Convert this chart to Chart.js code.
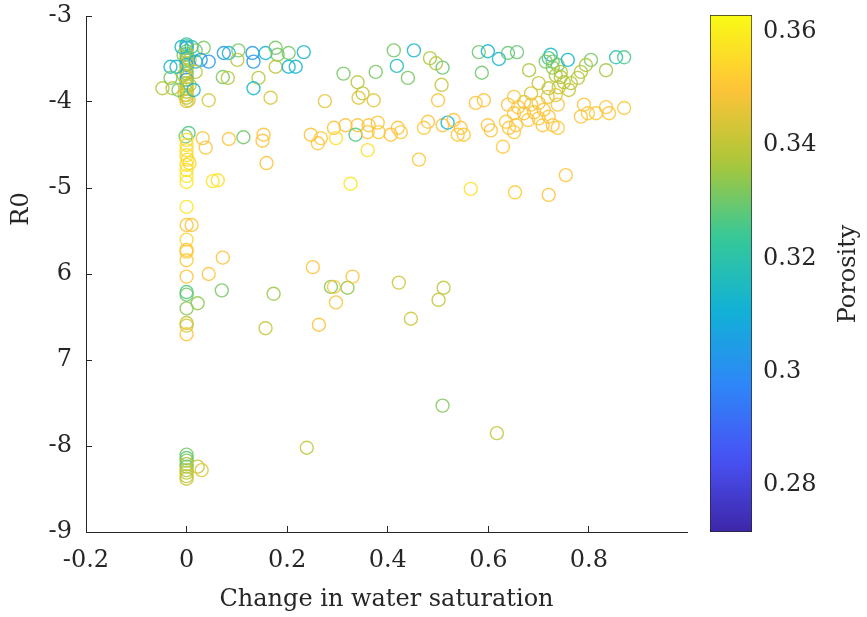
<!DOCTYPE html>
<html>
<head>
<meta charset="utf-8">
<script src="https://cdn.jsdelivr.net/npm/chart.js@4.4.1/dist/chart.umd.min.js"></script>
<style>
  html, body { margin: 0; padding: 0; background: #fff; }
  #wrap { position: relative; width: 867px; height: 617px; }
  #plot { position: absolute; left: 0; top: 0; }
  #cbar { position: absolute; left: 700px; top: 0; }
</style>
</head>
<body>
<div id="wrap">
  <canvas id="plot" width="867" height="617"></canvas>
  <canvas id="cbar" width="167" height="617"></canvas>
</div>
<script>
// axes
const xTicks = [-0.2, 0, 0.2, 0.4, 0.6, 0.8];
const xTickLabels = ['-0.2', '0', '0.2', '0.4', '0.6', '0.8'];
const yTicks = [-9, -8, -7, -6, -5, -4, -3];
const yTickLabels = ['-9', '-8', '7', '6', '-5', '-4', '-3'];
const cTicks = [0.28, 0.30, 0.32, 0.34, 0.36];
const cTickLabels = ['0.28', '0.3', '0.32', '0.34', '0.36'];
const cRange = [0.2717, 0.363];

// change in water saturation
const waterSatChange = [
  0,0,0,0,0,0,0,0,0,0,0,0,0,0,0,0,0,0,0,0,0,-0.006,0.006,-0.006,0.006,-0.004,0.004,-0.010,0.010,
  -0.048,-0.032,-0.020,-0.032,-0.028,-0.016,
  0.018,0.034,0.028,0.044,0.018,0.014,0.044,0.018,
  0.074,0.084,0.103,0.101,0.072,0.082,0.131,0.133,0.143,0.133,0.167,0.157,0.177,0.181,0.177,0.203,0.203,0.217,0.233,
  0.312,0.340,0.376,0.412,0.452,0.418,0.440,0.484,0.496,0.509,0.507,0.275,0.342,0.350,0.372,0.500,0.581,0.599,0.621,0.639,0.657,0.587,0.681,0.575,0.591,
  0.724,0.720,0.728,0.738,0.728,0.744,0.734,0.758,0.804,0.794,0.784,0.778,0.764,0.834,0.854,0.870,0.744,0.750,0.760,0.740,0.720,0.700,0.685,0.714,
  0.651,0.639,0.659,0.671,0.685,0.700,0.718,0.734,0.738,0.710,0.691,0.671,0.679,0.700,0.720,0.728,0.738,0.708,0.651,0.635,0.641,0.655,0.651,0.599,0.605,0.790,0.798,0.784,0.814,0.834,0.840,0.870,0.629,
  0.247,0.261,0.267,0.293,0.297,0.316,0.340,0.336,0.360,0.362,0.380,0.382,0.406,0.420,0.426,0.360,0.462,0.480,0.472,0.509,0.519,0.531,0.545,0.551,0.539,
  0.004,-0.002,0,0,0,0,0.002,0,0.006,0,0,0,0.032,0.038,0.084,0.113,0.153,0.151,0.159,0.052,0.062,
  0,0,0.010,0,0,0,0,0,0.044,0.072,0,0,0,0.022,0.070,0.173,0,0,0,0.157,
  0.326,0.565,0.653,0.720,0.754,0.251,0.287,0.293,0.320,0.330,0.297,0.263,0.422,0.446,0.511,0.501,
  0.509,0.617,0.239,0,0,0,0,0,0,0,0,0,0.022,0.030
];

// R0
const r0 = [
  -3.33,-3.35,-3.37,-3.41,-3.44,-3.48,-3.51,-3.55,-3.57,-3.60,-3.64,-3.67,-3.71,-3.74,-3.78,-3.81,-3.85,-3.88,-3.92,-3.95,-3.99,-3.45,-3.51,-3.69,-3.80,-3.92,-3.98,-3.36,-3.36,
  -3.84,-3.59,-3.59,-3.72,-3.84,-3.86,
  -3.40,-3.37,-3.51,-3.53,-3.53,-3.86,-3.98,-3.65,
  -3.43,-3.43,-3.40,-3.51,-3.71,-3.72,-3.43,-3.53,-3.72,-3.84,-3.95,-3.43,-3.37,-3.45,-3.59,-3.43,-3.59,-3.59,-3.42,
  -3.67,-3.77,-3.65,-3.40,-3.40,-3.58,-3.72,-3.49,-3.55,-3.60,-3.80,-3.99,-3.95,-3.90,-3.98,-3.98,-3.42,-3.41,-3.50,-3.43,-3.42,-3.66,-3.63,-4.01,-3.98,
  -3.45,-3.49,-3.53,-3.57,-3.60,-3.65,-3.69,-3.51,-3.51,-3.57,-3.65,-3.72,-3.78,-3.63,-3.48,-3.48,-3.71,-3.77,-3.86,-3.83,-3.84,-3.78,-3.90,-3.53,
  -3.94,-4.03,-4.06,-4.00,-4.03,-4.01,-3.94,-3.92,-4.03,-4.09,-4.12,-4.13,-4.21,-4.19,-4.17,-4.27,-4.30,-4.27,-4.13,-4.23,-4.30,-4.27,-4.35,-4.27,-4.33,-4.03,-4.13,-4.17,-4.13,-4.06,-4.13,-4.07,-4.52,
  -4.38,-4.48,-4.42,-4.30,-4.42,-4.27,-4.27,-4.38,-4.35,-4.27,-4.24,-4.35,-4.38,-4.30,-4.35,-4.56,-4.67,-4.23,-4.30,-4.27,-4.24,-4.21,-4.30,-4.38,-4.38,
  -4.36,-4.40,-4.44,-4.50,-4.56,-4.62,-4.67,-4.73,-4.71,-4.79,-4.86,-4.93,-4.42,-4.53,-4.43,-4.41,-4.38,-4.45,-4.71,-4.92,-4.91,
  -5.22,-5.43,-5.43,-5.60,-5.72,-5.74,-5.84,-6.03,-6.00,-5.81,-6.21,-6.24,-6.40,-6.34,-6.19,-6.23,-6.57,-6.60,-6.70,-6.63,
  -4.95,-5.01,-5.05,-5.08,-4.85,-5.92,-6.15,-6.15,-6.16,-6.03,-6.33,-6.59,-6.10,-6.52,-6.16,-6.30,
  -7.53,-7.85,-8.02,-8.10,-8.14,-8.17,-8.21,-8.24,-8.28,-8.31,-8.35,-8.38,-8.24,-8.28
];

// porosity (colour)
const porosity = [
  0.319,0.326,0.303,0.331,0.339,0.339,0.331,0.339,0.303,0.339,0.339,0.331,0.339,0.303,0.339,0.339,0.344,0.339,0.344,0.339,0.344,0.331,0.339,0.339,0.339,0.344,0.344,0.313,0.319,
  0.339,0.313,0.313,0.331,0.339,0.331,
  0.331,0.331,0.303,0.303,0.313,0.313,0.344,0.339,
  0.303,0.313,0.331,0.339,0.331,0.339,0.303,0.303,0.339,0.313,0.344,0.313,0.331,0.331,0.339,0.331,0.313,0.313,0.313,
  0.331,0.339,0.331,0.331,0.313,0.316,0.331,0.337,0.339,0.329,0.341,0.346,0.345,0.340,0.346,0.350,0.330,0.313,0.313,0.329,0.329,0.330,0.337,0.350,0.350,
  0.314,0.326,0.331,0.331,0.333,0.337,0.338,0.312,0.331,0.337,0.338,0.339,0.339,0.336,0.320,0.326,0.338,0.339,0.341,0.340,0.340,0.341,0.344,0.331,
  0.349,0.350,0.350,0.345,0.349,0.348,0.345,0.345,0.349,0.350,0.350,0.350,0.351,0.350,0.350,0.350,0.351,0.350,0.350,0.351,0.350,0.350,0.351,0.350,0.350,0.350,0.351,0.350,0.351,0.350,0.350,0.351,0.351,
  0.350,0.350,0.351,0.350,0.357,0.350,0.350,0.327,0.350,0.349,0.350,0.351,0.350,0.350,0.351,0.357,0.350,0.350,0.351,0.350,0.313,0.350,0.350,0.351,0.351,
  0.326,0.331,0.355,0.356,0.355,0.356,0.355,0.356,0.355,0.356,0.358,0.358,0.350,0.350,0.350,0.330,0.350,0.350,0.350,0.358,0.357,
  0.358,0.350,0.350,0.354,0.350,0.351,0.352,0.350,0.350,0.350,0.327,0.330,0.333,0.334,0.331,0.335,0.340,0.343,0.350,0.341,
  0.358,0.357,0.352,0.350,0.350,0.350,0.332,0.350,0.334,0.350,0.349,0.350,0.342,0.342,0.340,0.341,
  0.332,0.340,0.340,0.331,0.328,0.332,0.338,0.331,0.339,0.340,0.341,0.341,0.340,0.345
];

// parula colormap
const parulaStops = [
  [0.2422, 0.1504, 0.6603], [0.2810, 0.3228, 0.9579], [0.1786, 0.5289, 0.9682], [0.0689, 0.6948, 0.8394],
  [0.2161, 0.7843, 0.5923], [0.6720, 0.7793, 0.2227], [0.9970, 0.7659, 0.2199], [0.9769, 0.9839, 0.0805]
];
function parula(t, alpha) {
  t = Math.min(1, Math.max(0, t));
  const n = parulaStops.length - 1;
  const i = Math.min(n - 1, Math.floor(t * n));
  const f = t * n - i;
  const a = parulaStops[i], b = parulaStops[i + 1];
  const c = [0, 1, 2].map(k => Math.round(255 * (a[k] + (b[k] - a[k]) * f)));
  return `rgba(${c[0]},${c[1]},${c[2]},${alpha == null ? 1 : alpha})`;
}
const norm = v => (v - cRange[0]) / (cRange[1] - cRange[0]);

Chart.defaults.font.family = '"DejaVu Serif", serif';
Chart.defaults.font.size = 24;
Chart.defaults.color = '#262626';

// no extra room for half tick labels, layout padding decides the box
function noScalePad(s) {
  s.paddingTop = 0; s.paddingBottom = 0; s.paddingLeft = 0; s.paddingRight = 0;
}

// rotated side label (R0 / Porosity)
const sideLabel = {
  id: 'sideLabel',
  afterDraw(chart, args, opts) {
    const ctx = chart.ctx;
    ctx.save();
    ctx.font = '24px "DejaVu Serif", serif';
    ctx.fillStyle = '#262626';
    ctx.textAlign = 'center';
    ctx.textBaseline = 'middle';
    ctx.translate(opts.x, opts.y);
    ctx.rotate(-Math.PI / 2);
    ctx.fillText(opts.text, 0, 0);
    ctx.restore();
  }
};

const points = waterSatChange.map((x, i) => ({ x, y: r0[i] }));

new Chart(document.getElementById('plot'), {
  type: 'scatter',
  data: {
    datasets: [{
      data: points,
      pointStyle: 'circle',
      pointRadius: 6.5,
      pointBorderWidth: 1.4,
      pointBackgroundColor: 'rgba(0,0,0,0)',
      pointBorderColor: ctx => parula(norm(porosity[ctx.dataIndex]), 0.85)
    }]
  },
  options: {
    responsive: false,
    animation: false,
    layout: { padding: { left: 0, right: 180, top: 16, bottom: 0 } },
    plugins: {
      legend: { display: false },
      tooltip: { enabled: false },
      sideLabel: { text: 'R0', x: 22, y: 209 }
    },
    scales: {
      x: {
        type: 'linear',
        min: -0.2,
        max: 0.995,
        afterBuildTicks: s => { s.ticks = xTicks.map(v => ({ value: v })); },
        afterFit: s => { s.height = 85; noScalePad(s); },
        ticks: { padding: 20, maxRotation: 0, callback: v => xTickLabels[xTicks.indexOf(v)] },
        grid: { drawOnChartArea: false, tickLength: -6, color: '#262626' },
        border: { color: '#262626', width: 1 },
        title: { display: true, text: 'Change in water saturation', padding: { top: 0, bottom: 3 } }
      },
      y: {
        type: 'linear',
        min: -9,
        max: -3,
        afterBuildTicks: s => { s.ticks = yTicks.map(v => ({ value: v })); },
        afterFit: s => { s.width = 86; noScalePad(s); },
        ticks: { padding: 20, callback: v => yTickLabels[yTicks.indexOf(v)] },
        grid: { drawOnChartArea: false, tickLength: -6, color: '#262626' },
        border: { color: '#262626', width: 1 }
      }
    }
  },
  plugins: [sideLabel]
});

// colour bar
new Chart(document.getElementById('cbar'), {
  type: 'bar',
  data: {
    labels: [''],
    datasets: [{
      data: [[cRange[0], cRange[1]]],
      barPercentage: 1,
      categoryPercentage: 1,
      borderWidth: 1,
      borderColor: '#262626',
      borderSkipped: false,
      backgroundColor: ctx => {
        const chart = ctx.chart;
        if (!chart.chartArea) return null;
        const ys = chart.scales.y;
        const g = chart.ctx.createLinearGradient(0, ys.getPixelForValue(cRange[0]), 0, ys.getPixelForValue(cRange[1]));
        for (let i = 0; i <= 40; i++) g.addColorStop(i / 40, parula(i / 40));
        return g;
      }
    }]
  },
  options: {
    responsive: false,
    animation: false,
    layout: { padding: { left: 10, right: 0, top: 15, bottom: 85 } },
    plugins: {
      legend: { display: false },
      tooltip: { enabled: false },
      sideLabel: { text: 'Porosity', x: 149, y: 274 }
    },
    scales: {
      x: { display: false },
      y: {
        position: 'right',
        min: cRange[0],
        max: cRange[1],
        afterBuildTicks: s => { s.ticks = cTicks.map(v => ({ value: v })); },
        afterFit: s => { s.width = 115; noScalePad(s); },
        ticks: { padding: 16, callback: v => cTickLabels[cTicks.indexOf(v)] },
        grid: { drawOnChartArea: false, tickLength: -5, color: '#262626' },
        border: { display: false }
      }
    }
  },
  plugins: [sideLabel]
});
</script>
</body>
</html>
